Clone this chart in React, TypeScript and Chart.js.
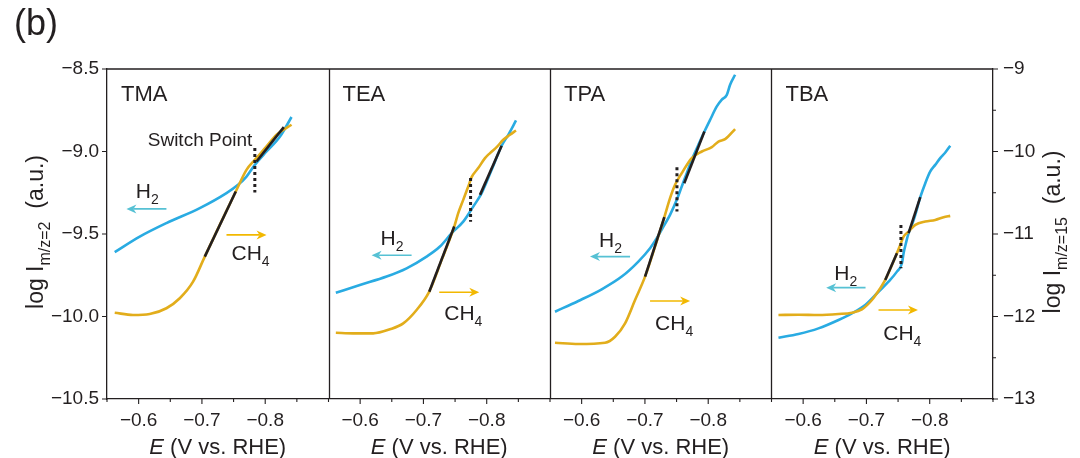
import { useEffect, useRef } from 'react';
import { Chart, registerables } from 'chart.js';

Chart.register(...registerables);

const panels = ['TMA', 'TEA', 'TPA', 'TBA'];
const xTickValues = [-0.6, -0.7, -0.8];
const xTickLabels = ['−0.6', '−0.7', '−0.8'];
const xMarkValues = [-0.55, -0.6, -0.65, -0.7, -0.75, -0.8, -0.85];
const leftTicks = [-8.5, -9.0, -9.5, -10.0, -10.5];
const rightTicks = [-9, -10, -11, -12, -13];
const rightMarks = [-9, -9.5, -10, -10.5, -11, -11.5, -12, -12.5, -13];

// TMA
const tmaH2E = [-0.5622, -0.6017, -0.6439, -0.6966, -0.7388, -0.7571, -0.7704, -0.7836, -0.8021, -0.8234, -0.8416];
const tmaH2 = [-9.61, -9.516, -9.434, -9.343, -9.252, -9.202, -9.152, -9.081, -9.0, -8.909, -8.791];
const tmaCH4E = [-0.5622, -0.5911, -0.6175, -0.6439, -0.665, -0.686, -0.7045, -0.7282, -0.7535, -0.7704, -0.7836, -0.8021, -0.8179, -0.8416];
const tmaCH4 = [-11.954, -11.982, -11.97, -11.9, -11.779, -11.578, -11.274, -10.89, -10.485, -10.222, -10.101, -9.939, -9.797, -9.676];
const tmaFitCH4E = [-0.7045, -0.7535];
const tmaFitCH4 = [-11.274, -10.485];
const tmaFitH2E = [-0.7862, -0.8294];
const tmaFitH2 = [-9.061, -8.852];

// TEA
const teaH2E = [-0.5616, -0.5996, -0.6418, -0.6734, -0.705, -0.7261, -0.7446, -0.7629, -0.7787, -0.792, -0.8078, -0.8236, -0.8341, -0.8463];
const teaH2 = [-9.856, -9.809, -9.758, -9.708, -9.637, -9.576, -9.495, -9.425, -9.334, -9.252, -9.111, -8.965, -8.899, -8.812];
const teaCH4E = [-0.5616, -0.589, -0.6206, -0.647, -0.6681, -0.6892, -0.7092, -0.7288, -0.7487, -0.755, -0.7629, -0.7708, -0.7762, -0.7866, -0.7973, -0.8052, -0.8157, -0.8262, -0.8368, -0.8463];
const teaCH4 = [-12.197, -12.204, -12.204, -12.155, -12.083, -11.921, -11.699, -11.314, -10.91, -10.748, -10.586, -10.425, -10.311, -10.201, -10.08, -10.019, -9.947, -9.858, -9.797, -9.745];
const teaFitCH4E = [-0.7092, -0.7487];
const teaFitCH4 = [-11.699, -10.91];
const teaFitH2E = [-0.7894, -0.8236];
const teaFitH2 = [-9.263, -8.965];

// TPA
const tpaH2E = [-0.5579, -0.5948, -0.6317, -0.6634, -0.6896, -0.7081, -0.7187, -0.7292, -0.7397, -0.7503, -0.7582, -0.7661, -0.774, -0.7845, -0.794, -0.803, -0.8136, -0.8215, -0.8294, -0.8346, -0.8425];
const tpaH2 = [-9.971, -9.906, -9.835, -9.758, -9.667, -9.586, -9.525, -9.455, -9.384, -9.293, -9.212, -9.131, -9.05, -8.959, -8.879, -8.808, -8.727, -8.686, -8.657, -8.595, -8.535];
const tpaCH4E = [-0.5579, -0.5948, -0.637, -0.6528, -0.6686, -0.6844, -0.7002, -0.716, -0.7307, -0.7397, -0.7476, -0.7582, -0.774, -0.7899, -0.8057, -0.8162, -0.8267, -0.8425];
const tpaCH4 = [-12.318, -12.334, -12.318, -12.245, -12.083, -11.8, -11.517, -11.153, -10.796, -10.566, -10.404, -10.262, -10.08, -10.0, -9.947, -9.879, -9.85, -9.728];
const tpaFitCH4E = [-0.7002, -0.7307];
const tpaFitCH4 = [-11.517, -10.796];
const tpaFitH2E = [-0.7621, -0.794];
const tpaFitH2 = [-9.192, -8.879];

// TBA
const tbaH2E = [-0.561, -0.5926, -0.6242, -0.6559, -0.677, -0.6981, -0.7191, -0.7349, -0.7482, -0.7561, -0.7587, -0.7624, -0.7666, -0.7719, -0.7772, -0.7851, -0.793, -0.8009, -0.8087, -0.8166, -0.8246, -0.8324];
const tbaH2 = [-10.129, -10.106, -10.072, -10.021, -9.981, -9.93, -9.85, -9.789, -9.728, -9.677, -9.617, -9.556, -9.495, -9.445, -9.384, -9.277, -9.192, -9.121, -9.081, -9.04, -9.006, -8.965];
const tbaCH4E = [-0.561, -0.5926, -0.6242, -0.6559, -0.677, -0.6929, -0.7087, -0.7218, -0.7297, -0.7392, -0.7482, -0.7534, -0.7587, -0.7666, -0.7772, -0.793, -0.8087, -0.8219, -0.8324];
const tbaCH4 = [-11.982, -11.978, -11.982, -11.97, -11.954, -11.913, -11.8, -11.658, -11.557, -11.396, -11.233, -11.132, -11.032, -10.971, -10.89, -10.849, -10.829, -10.796, -10.78];
const tbaFitCH4E = [-0.7297, -0.7482];
const tbaFitCH4 = [-11.557, -11.233];
const tbaFitH2E = [-0.7666, -0.7851];
const tbaFitH2 = [-9.495, -9.277];

// switch point markers (left-axis units), one per panel
const switchE = [-0.7836, -0.7745, -0.7506, -0.7545];
const switchTop = [-8.979, -9.161, -9.095, -9.445];
const switchBottom = [-9.249, -9.425, -9.364, -9.708];

// arrows and their labels
const h2ArrowFrom = [-0.6439, -0.6813, -0.6765, -0.6986];
const h2ArrowTo = [-0.5807, -0.6181, -0.6132, -0.6364];
const h2ArrowY = [-9.348, -9.629, -9.637, -9.825];
const ch4ArrowFrom = [-0.7388, -0.725, -0.7081, -0.7191];
const ch4ArrowTo = [-0.8021, -0.7882, -0.7714, -0.7814];
const ch4ArrowY = [-11.011, -11.706, -11.812, -11.921];
const h2LabelE = [-0.5954, -0.6323, -0.6275, -0.6491];
const h2LabelY = [-9.282, -9.566, -9.576, -9.779];
const ch4LabelE = [-0.7467, -0.7329, -0.716, -0.7266];
const ch4LabelY = [-11.314, -12.043, -12.164, -12.285];

const E_START = -0.55;
const SPAN = 0.35;
const FAMILY = '"Liberation Sans", Arial, Helvetica, sans-serif';
const INK = '#231f20';
const BLUE = '#29abe2';
const YELLOW = '#e2ad1b';
const H2_ARROW = '#56c1d4';
const CH4_ARROW = '#f2b800';

// every panel maps E onto one continuous x scale
const toX = (p: number, e: number) => p * SPAN + (E_START - e);

const panelData = [
  { h2E: tmaH2E, h2: tmaH2, ch4E: tmaCH4E, ch4: tmaCH4, fcE: tmaFitCH4E, fc: tmaFitCH4, fhE: tmaFitH2E, fh: tmaFitH2 },
  { h2E: teaH2E, h2: teaH2, ch4E: teaCH4E, ch4: teaCH4, fcE: teaFitCH4E, fc: teaFitCH4, fhE: teaFitH2E, fh: teaFitH2 },
  { h2E: tpaH2E, h2: tpaH2, ch4E: tpaCH4E, ch4: tpaCH4, fcE: tpaFitCH4E, fc: tpaFitCH4, fhE: tpaFitH2E, fh: tpaFitH2 },
  { h2E: tbaH2E, h2: tbaH2, ch4E: tbaCH4E, ch4: tbaCH4, fcE: tbaFitCH4E, fc: tbaFitCH4, fhE: tbaFitH2E, fh: tbaFitH2 },
];

const pts = (p: number, es: number[], ys: number[]) => es.map((e, i) => ({ x: toX(p, e), y: ys[i] }));
const minus = (s: string) => s.replace('-', '−');

type Piece = { t: string; sub?: boolean; italic?: boolean };

function rich(ctx: CanvasRenderingContext2D, pieces: Piece[], x: number, y: number, size: number, center = false) {
  const fontOf = (p: Piece) => `${p.italic ? 'italic ' : ''}${p.sub ? Math.round(size * 0.68) : size}px ${FAMILY}`;
  const widths = pieces.map((p) => {
    ctx.font = fontOf(p);
    return ctx.measureText(p.t).width;
  });
  const total = widths.reduce((a, b) => a + b, 0);
  let cx = center ? x - total / 2 : x;
  ctx.textAlign = 'left';
  ctx.textBaseline = 'alphabetic';
  pieces.forEach((p, i) => {
    ctx.font = fontOf(p);
    ctx.fillText(p.t, cx, p.sub ? y + size * 0.3 : y);
    cx += widths[i];
  });
}

function arrow(ctx: CanvasRenderingContext2D, x0: number, x1: number, y: number, color: string) {
  const dir = Math.sign(x1 - x0);
  ctx.strokeStyle = color;
  ctx.fillStyle = color;
  ctx.lineWidth = 1.6;
  ctx.beginPath();
  ctx.moveTo(x0, y);
  ctx.lineTo(x1 - dir * 7, y);
  ctx.stroke();
  ctx.beginPath();
  ctx.moveTo(x1, y);
  ctx.lineTo(x1 - dir * 10, y - 4.5);
  ctx.lineTo(x1 - dir * 7, y);
  ctx.lineTo(x1 - dir * 10, y + 4.5);
  ctx.closePath();
  ctx.fill();
}

const decor = {
  id: 'decor',
  afterDraw(chart: any) {
    const { ctx, chartArea: a, scales } = chart;
    const x = scales.x;
    const y = scales.y;
    const y2 = scales.y2;
    ctx.save();

    // frame: top edge and panel separators
    ctx.strokeStyle = INK;
    ctx.lineWidth = 1.3;
    ctx.beginPath();
    ctx.moveTo(a.left, a.top);
    ctx.lineTo(a.right, a.top);
    for (let p = 1; p < panels.length; p++) {
      const px = Math.round(x.getPixelForValue(p * SPAN)) + 0.5;
      ctx.moveTo(px, a.top);
      ctx.lineTo(px, a.bottom);
    }
    ctx.stroke();

    // tick marks
    ctx.lineWidth = 1.1;
    ctx.beginPath();
    panels.forEach((_n, p) => {
      xMarkValues.forEach((e, k) => {
        const px = x.getPixelForValue(toX(p, e));
        const len = k % 2 === 1 ? 5 : 3;
        ctx.moveTo(px, a.bottom);
        ctx.lineTo(px, a.bottom + len);
      });
    });
    const endX = x.getPixelForValue(panels.length * SPAN);
    ctx.moveTo(endX, a.bottom);
    ctx.lineTo(endX, a.bottom + 3);
    leftTicks.forEach((v) => {
      const py = y.getPixelForValue(v);
      ctx.moveTo(a.left - 5, py);
      ctx.lineTo(a.left, py);
    });
    rightMarks.forEach((v) => {
      const py = y2.getPixelForValue(v);
      ctx.moveTo(a.right, py);
      ctx.lineTo(a.right + (Number.isInteger(v) ? 5 : 3), py);
    });
    ctx.stroke();

    ctx.fillStyle = INK;
    // panel names and x titles
    panels.forEach((name, p) => {
      const l = x.getPixelForValue(p * SPAN);
      const r = x.getPixelForValue((p + 1) * SPAN);
      ctx.font = `22px ${FAMILY}`;
      ctx.textAlign = 'left';
      ctx.textBaseline = 'alphabetic';
      ctx.fillText(name, l + 14, a.top + 32);
      rich(ctx, [{ t: 'E', italic: true }, { t: ' (V vs. RHE)' }], (l + r) / 2, a.bottom + 55, 22, true);
    });

    // y titles
    const midY = (a.top + a.bottom) / 2 - 2;
    ctx.save();
    ctx.translate(43, midY);
    ctx.rotate(-Math.PI / 2);
    rich(ctx, [{ t: 'log I' }, { t: 'm/z=2', sub: true }, { t: '  (a.u.)' }], 0, 0, 23, true);
    ctx.restore();
    ctx.save();
    ctx.translate(1060, midY);
    ctx.rotate(-Math.PI / 2);
    rich(ctx, [{ t: 'log I' }, { t: 'm/z=15', sub: true }, { t: '  (a.u.)' }], 0, 0, 23, true);
    ctx.restore();

    // arrows and gas labels
    panels.forEach((_n, p) => {
      arrow(ctx, x.getPixelForValue(toX(p, h2ArrowFrom[p])), x.getPixelForValue(toX(p, h2ArrowTo[p])), y.getPixelForValue(h2ArrowY[p]), H2_ARROW);
      arrow(ctx, x.getPixelForValue(toX(p, ch4ArrowFrom[p])), x.getPixelForValue(toX(p, ch4ArrowTo[p])), y2.getPixelForValue(ch4ArrowY[p]), CH4_ARROW);
      ctx.fillStyle = INK;
      rich(ctx, [{ t: 'H' }, { t: '2', sub: true }], x.getPixelForValue(toX(p, h2LabelE[p])), y.getPixelForValue(h2LabelY[p]), 21);
      rich(ctx, [{ t: 'CH' }, { t: '4', sub: true }], x.getPixelForValue(toX(p, ch4LabelE[p])), y2.getPixelForValue(ch4LabelY[p]), 21);
    });

    ctx.font = `19px ${FAMILY}`;
    ctx.textAlign = 'left';
    ctx.fillText('Switch Point', x.getPixelForValue(toX(0, -0.6144)), y.getPixelForValue(-8.965));

    ctx.font = `36px ${FAMILY}`;
    ctx.fillText('(b)', 14, 35);
    ctx.restore();
  },
};

const tickFont = { family: FAMILY, size: 19 };

const App = () => {
  const canvasRef = useRef<HTMLCanvasElement | null>(null);
  const chartRef = useRef<Chart | null>(null);

  useEffect(() => {
    if (!canvasRef.current) return;
    if (chartRef.current) chartRef.current.destroy();

    const datasets: any[] = [];
    panelData.forEach((d, p) => {
      datasets.push({ data: pts(p, d.h2E, d.h2), yAxisID: 'y', borderColor: BLUE, borderWidth: 2.6, cubicInterpolationMode: 'monotone', order: 4 });
      datasets.push({ data: pts(p, d.ch4E, d.ch4), yAxisID: 'y2', borderColor: YELLOW, borderWidth: 2.6, cubicInterpolationMode: 'monotone', order: 3 });
      datasets.push({ data: pts(p, d.fcE, d.fc), yAxisID: 'y2', borderColor: INK, borderWidth: 2.6, order: 2 });
      datasets.push({ data: pts(p, d.fhE, d.fh), yAxisID: 'y', borderColor: INK, borderWidth: 2.6, order: 2 });
      datasets.push({
        data: pts(p, [switchE[p], switchE[p]], [switchTop[p], switchBottom[p]]),
        yAxisID: 'y', borderColor: INK, borderWidth: 3, borderDash: [3, 3], borderCapStyle: 'butt', order: 1,
      });
    });

    chartRef.current = new Chart(canvasRef.current, {
      type: 'line',
      data: { datasets },
      options: {
        animation: false,
        responsive: true,
        maintainAspectRatio: false,
        layout: { padding: { top: 69, left: 0, right: 0, bottom: 0 } },
        elements: { point: { radius: 0 } },
        plugins: { legend: { display: false }, tooltip: { enabled: false } },
        scales: {
          x: {
            type: 'linear',
            min: 0,
            max: panels.length * SPAN,
            afterBuildTicks: (s: any) => {
              s.ticks = panels.flatMap((_n, p) => xTickValues.map((e) => ({ value: toX(p, e) })));
            },
            afterFit: (s: any) => { s.height = 59; },
            grid: { display: false, drawTicks: false },
            border: { display: true, color: INK, width: 1.3 },
            ticks: { callback: (_v: any, i: number) => xTickLabels[i % 3], font: tickFont, color: INK, padding: 10, autoSkip: false, maxRotation: 0 },
          },
          y: {
            position: 'left',
            min: -10.5,
            max: -8.5,
            afterBuildTicks: (s: any) => { s.ticks = leftTicks.map((value) => ({ value })); },
            afterFit: (s: any) => { s.width = 107; },
            grid: { display: false, drawTicks: false },
            border: { display: true, color: INK, width: 1.3 },
            ticks: { callback: (v: any) => minus(Number(v).toFixed(1)), font: tickFont, color: INK, padding: 8 },
          },
          y2: {
            position: 'right',
            min: -13,
            max: -9,
            afterBuildTicks: (s: any) => { s.ticks = rightTicks.map((value) => ({ value })); },
            afterFit: (s: any) => { s.width = 87; },
            grid: { display: false, drawTicks: false },
            border: { display: true, color: INK, width: 1.3 },
            ticks: { callback: (v: any) => minus(String(v)), font: tickFont, color: INK, padding: 10 },
          },
        },
      },
      plugins: [decor],
    });

    return () => {
      if (chartRef.current) {
        chartRef.current.destroy();
        chartRef.current = null;
      }
    };
  }, []);

  return (
    <div style={{ position: 'fixed', left: 0, top: 0, width: 1080, height: 458, background: '#fff' }}>
      <canvas ref={canvasRef}></canvas>
    </div>
  );
};

export default App;
